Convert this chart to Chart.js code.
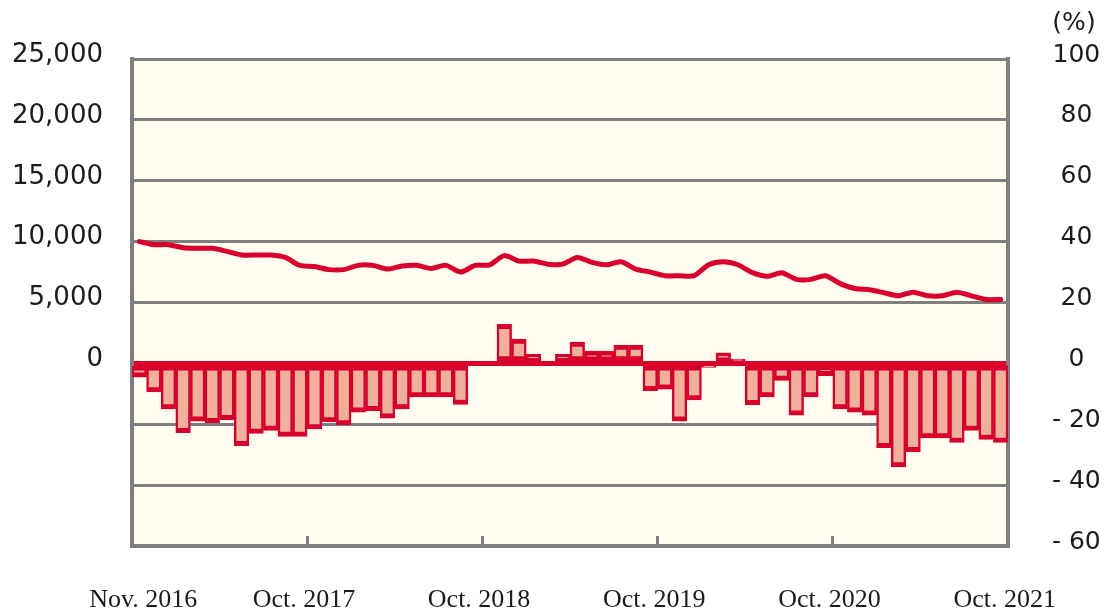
<!DOCTYPE html>
<html>
<head>
<meta charset="utf-8">
<script src="https://cdn.jsdelivr.net/npm/chart.js@4"></script>
<style>
  html, body { margin: 0; padding: 0; background: #fff; }
  #wrap { position: relative; width: 1109px; height: 616px; }
</style>
</head>
<body>
<div id="wrap"><canvas id="chart"></canvas></div>
<script>
// Categories: monthly, Nov. 2016 - Oct. 2021
const monthNames = ['Jan.', 'Feb.', 'Mar.', 'Apr.', 'May', 'Jun.', 'Jul.', 'Aug.', 'Sep.', 'Oct.', 'Nov.', 'Dec.'];
const categories = [];
for (let i = 0; i < 60; i++) {
    const m = (10 + i) % 12;
    const y = 2016 + Math.floor((10 + i) / 12);
    categories.push(monthNames[m] + ' ' + y);
}

// Level (left axis)
const levelValues = [
    10000, 9750, 9750, 9500, 9450, 9450, 9200, 8900, 8900, 8900, 8700, 8050,
    7950, 7700, 7700, 8050, 8050, 7750, 8000, 8050, 7800, 8050, 7500, 8050,
    8100, 8850, 8400, 8400, 8150, 8150, 8700, 8300, 8100, 8350, 7750, 7500,
    7200, 7200, 7200, 8100, 8350, 8100, 7450, 7150, 7450, 6900, 6900, 7200,
    6550, 6150, 6050, 5800, 5550, 5850, 5550, 5550, 5850, 5550, 5250, 5250
];

// Year-on-year change, % (right axis)
const changeValues = [
    -4.5, -9.4, -15, -22.8, -19, -19.5, -18.5, -27, -23, -22, -24, -24,
    -21.5, -19.2, -20.2, -16, -15.5, -18, -15, -11, -11, -11, -13.5, 0,
    0, 12.8, 8, 3, 0, 3, 7, 4, 4, 6, 6, -9,
    -8.5, -19, -12, -1.3, 3.5, 1.4, -13.6, -11, -5.6, -17, -11, -4,
    -15, -16, -17, -27.7, -34, -29, -24.5, -24.5, -26, -22, -25, -26
];

// Axis labels
const xLabelIndex = [0, 11, 23, 35, 47, 59];
const xMarkIndex = [12, 24, 36, 48];

const red = '#D9002B';
const salmon = '#EFB09C';
const grey = '#7F7F7F';
const textColor = '#1c1c1c';

const plotBackground = {
    id: 'plotBackground',
    beforeDraw(chart) {
        const { ctx, chartArea: a } = chart;
        ctx.save();
        ctx.fillStyle = '#FFFDEF';
        ctx.fillRect(a.left, a.top, a.right - a.left, a.bottom - a.top);
        ctx.restore();
    }
};

// "(%)" unit above the right axis
const percentUnit = {
    id: 'percentUnit',
    afterDraw(chart) {
        const s = chart.scales.y1;
        const ctx = chart.ctx;
        ctx.save();
        ctx.font = '25px "DejaVu Sans"';
        ctx.fillStyle = textColor;
        ctx.textAlign = 'center';
        ctx.textBaseline = 'middle';
        ctx.fillText('(%)', s.left + 66, s.top - 36);
        ctx.restore();
    }
};

new Chart(document.getElementById('chart'), {
    data: {
        labels: categories,
        datasets: [{
            type: 'line',
            data: levelValues,
            yAxisID: 'y',
            borderColor: red,
            borderWidth: 5,
            pointRadius: 0,
            tension: 0.25,
            borderJoinStyle: 'round',
            borderCapStyle: 'round',
            order: 0
        }, {
            type: 'bar',
            data: changeValues,
            yAxisID: 'y1',
            backgroundColor: salmon,
            borderColor: red,
            borderWidth: { top: 5, bottom: 5, left: 2.5, right: 2.5 },
            borderSkipped: false,
            barPercentage: 1,
            categoryPercentage: 1,
            order: 1
        }]
    },
    options: {
        responsive: true,
        maintainAspectRatio: false,
        animation: false,
        layout: { padding: { top: 55, left: 0, right: 0, bottom: 0 } },
        plugins: {
            legend: { display: false },
            tooltip: { enabled: false }
        },
        scales: {
            x: {
                offset: true,
                grid: {
                    offset: true,
                    drawOnChartArea: false,
                    drawTicks: true,
                    tickLength: -10,
                    tickWidth: 3,
                    tickColor: (c) => xMarkIndex.includes(c.index) ? grey : 'rgba(0,0,0,0)'
                },
                border: { color: grey, width: 4 },
                ticks: {
                    autoSkip: false,
                    maxRotation: 0,
                    minRotation: 0,
                    padding: 49,
                    labelOffset: 4,
                    color: textColor,
                    font: { family: '"Liberation Serif"', size: 26 },
                    callback: (v, i) => xLabelIndex.includes(i) ? categories[i] : ''
                },
                afterFit: (s) => { s.height = 70; }
            },
            y: {
                position: 'left',
                min: -15000,
                max: 25000,
                grid: { display: false, drawTicks: false },
                border: { color: grey, width: 4 },
                ticks: {
                    stepSize: 5000,
                    padding: 29,
                    labelOffset: -4,
                    color: textColor,
                    font: { family: '"DejaVu Sans"', size: 26 },
                    callback: (v) => v >= 0 ? v.toLocaleString('en-US') : ''
                },
                afterFit: (s) => { s.width = 132; }
            },
            y1: {
                position: 'right',
                min: -60,
                max: 100,
                grid: {
                    drawTicks: false,
                    color: (c) => c.tick && c.tick.value === 0 ? red : grey,
                    lineWidth: (c) => c.tick && c.tick.value === 0 ? 5 : 3
                },
                border: { color: grey, width: 4 },
                ticks: {
                    stepSize: 20,
                    padding: 44,
                    crossAlign: 'center',
                    labelOffset: -4,
                    color: textColor,
                    font: { family: '"DejaVu Sans"', size: 25 },
                    callback: (v) => v < 0 ? '- ' + (-v) : String(v)
                },
                afterFit: (s) => { s.width = 101; }
            }
        }
    },
    plugins: [plotBackground, percentUnit]
});
</script>
</body>
</html>
